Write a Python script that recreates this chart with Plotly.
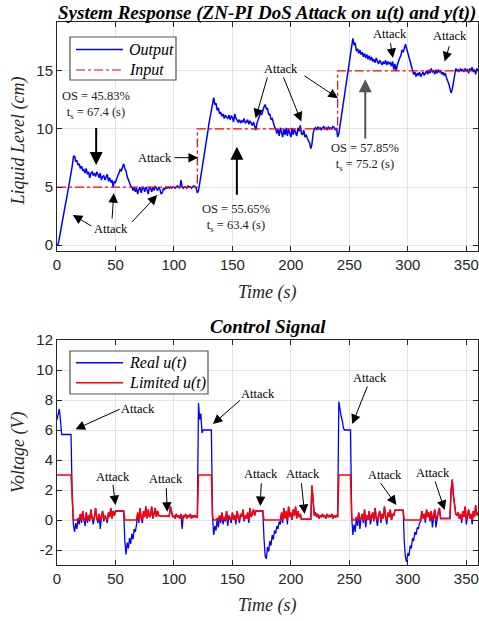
import plotly.graph_objects as go

# ---------------- data ----------------
TIME_S = list(range(0, 361))  # 1-s sampling grid

OUTPUT_CM = (
    [0.0, 0.1, 0.6, 1.2, 1.8, 2.5, 3.0, 3.4, 3.9, 4.4, 5.0, 5.6, 6.2, 6.8, 7.6]
    + [7.7, 7.2, 7.3, 6.9, 7.0, 6.6, 6.8, 6.4, 6.5, 6.2, 6.6, 6.1, 6.3, 5.8, 6.2, 6.3]
    + [6.0, 6.2, 5.9, 6.3, 6.1, 5.8, 6.2, 5.6, 5.9, 6.0, 5.6, 5.8, 6.1, 5.5, 5.8, 5.4, 5.6, 5.0, 5.5, 5.4]
    + [5.8, 6.0, 6.2, 6.5, 6.4, 6.7, 7.0, 6.6, 6.4, 5.9, 5.6, 5.3, 5.1, 5.0]
    + [4.7, 5.0, 4.6, 4.9, 4.4, 4.8, 5.0, 4.5, 4.9, 5.0, 4.6, 5.0, 4.8, 4.4, 5.0, 4.9]
    + [4.6, 5.0, 4.7, 5.1, 4.9, 4.7, 5.0, 4.8, 4.4, 4.5, 4.9, 4.8, 5.0, 4.9, 5.0, 4.9, 5.0, 4.9, 5.0, 5.0]
    + [4.9, 5.0, 5.1, 5.0, 4.9, 5.6, 5.0, 4.9, 5.0, 5.0, 4.9, 5.1, 5.0, 5.0, 4.9, 5.0, 5.1, 5.0, 4.9, 4.5]
    + [4.7, 5.3, 5.9, 6.6, 7.2, 7.9, 8.5, 9.2, 9.8, 10.5, 11.1, 11.8, 12.4, 12.7]
    + [12.1, 12.2, 11.6, 11.8, 11.3, 11.4, 11.1, 11.3, 10.9, 11.2, 11.0, 10.9, 11.2, 10.8, 11.1, 11.0,
       10.6, 11.3, 10.9, 10.7, 10.6, 10.8, 10.5, 10.7, 10.6, 10.9, 10.5, 10.6, 10.8, 10.4, 10.7]
    + [10.5, 10.3, 10.6, 10.2, 9.9, 10.5, 10.8, 11.0, 11.4, 11.2, 11.7, 11.9, 12.1, 11.7, 11.8, 11.2,
       11.3, 10.8, 10.9, 10.5, 10.2, 10.0]
    + [9.6, 10.0, 9.4, 10.1, 9.6, 9.3, 10.0, 9.5, 10.1, 9.4, 10.0, 9.7, 9.3, 10.1, 9.5, 10.0, 9.6, 9.4,
       10.1, 9.8, 10.3, 9.6, 9.5, 9.9, 9.3, 9.5, 9.2, 9.0, 8.8, 8.3, 8.7]
    + [9.6, 10.0, 10.1, 9.9, 10.2, 10.0, 10.1, 9.9, 10.1, 10.2, 10.0, 10.1, 9.9, 10.2, 10.0, 10.1, 10.0,
       10.2, 10.1, 9.9, 10.1, 9.3]
    + [9.6, 10.3, 11.0, 11.7, 12.4, 13.1, 13.8, 14.5, 15.2, 15.9, 16.6, 17.2, 17.8]
    + [17.2, 17.4, 16.7, 16.9, 16.5, 16.8, 16.4, 16.6, 16.2, 16.5, 16.1, 16.4, 16.0, 16.3, 15.9, 16.2,
       15.8, 16.0, 15.7, 16.1, 15.8, 15.6, 15.9, 15.7, 15.5, 15.8, 15.6, 15.9, 15.5, 15.8, 15.6, 15.7,
       15.4, 15.8, 15.1, 15.6, 15.0]
    + [15.5, 15.9, 16.1, 16.3, 16.8, 16.6, 17.1, 17.3, 16.9, 16.5, 16.2, 15.8, 15.4, 15.0, 14.7, 14.9,
       14.5, 14.8, 14.6, 14.9, 14.5, 14.7, 14.9, 14.6, 14.8, 15.0, 14.7, 15.1, 14.8, 15.2, 14.9, 15.0,
       14.7, 15.1]
    + [14.8, 15.1, 14.9, 15.0, 14.7, 14.9, 14.6, 14.8, 14.4, 14.2, 13.9, 13.5, 13.1, 13.4, 14.0, 14.9,
       15.2, 15.0, 15.1, 14.9, 15.2, 15.0, 15.1, 14.9, 15.2, 15.0, 15.1, 14.8, 15.2, 15.0, 15.3, 14.9,
       15.1, 14.7, 15.2, 15.0]
)

INPUT_T = [0, 120, 120, 240, 240, 360]
INPUT_CM = [5, 5, 10, 10, 15, 15]

REAL_U = (
    [6.7, 7.1, 7.4, 6.6, 5.7, 5.7, 5.7, 5.7, 5.7, 5.7, 5.7, 5.7, 5.7]
    + [1.6, -0.3, -0.8, -0.2, -0.6, 0.1, -0.3, 0.4]
    + [-0.2, 0.6, 0.0, -0.4, 0.5, -0.2, 0.3, -0.1, 0.7, 0.1]
    + [-0.3, 0.2, 0.8, 0.1, -0.2, 0.4, -0.6, 0.2, 0.6, -0.1]
    + [0.3, 0.1, -0.2, 0.5, 0.2, 0.8, 0.1, 0.6, 0.3, 0.6]
    + [0.6, 0.6, 0.6, 0.6, 0.6, 0.6, 0.6]
    + [-1.4, -2.3, -1.5, -1.9, -1.2, -1.6, -0.9, -1.3, -0.6, -0.8, -0.3]
    + [0.5, -0.2, 0.8, 0.1, -0.2, 0.6, 0.2, 0.9, 0.1, 0.7, 0.2, 0.3]
    + [0.9, 0.1, 0.4, 0.8, 0.2, 0.6, 0.3, 0.25]
    + [0.25, 0.25, 0.25, 0.25, 0.25, 0.25, 0.25, 0.25]
    + [0.9, 0.4, 0.2, 0.3, 0.1, 0.4, 0.2, 0.3, 0.1, 0.4, -0.6, 0.3, 0.2, 0.4]
    + [0.1, 0.3, 0.2, 0.4, 0.1, 0.3, 0.2, 0.3, 0.2, 0.2]
    + [7.8, 6.7, 7.1, 5.8, 6.0, 6.0, 6.0, 6.0, 6.0, 6.0, 6.0, 6.0]
    + [0.2, -1.0, -0.4, -0.7, 0.1, -0.5, 0.3, -0.2, 0.5, -0.3, 0.2, -0.1, 0.6, -0.4, 0.3, 0.1, -0.2, 0.5]
    + [0.0, 0.3, -0.3, 0.6, 0.1, -0.2, 0.4, 0.2, 0.7, -0.1, 0.3, 0.1, 0.5, -0.2, 0.8, 0.2, 0.4, 0.7, 0.3]
    + [0.6, 0.6, 0.6, 0.6, 0.6, 0.6, 0.6]
    + [-1.2, -2.4, -2.6, -1.8, -2.1, -1.4, -1.7, -1.0, -1.3, -0.7, -0.9, -0.4, -0.6, -0.1, -0.3]
    + [0.5, -0.2, 0.8, 0.1, 0.6, -0.3, 0.9, 0.2, 0.5, 0.0, 0.7, 0.3, 0.9, 0.1, 0.6, 0.2, 0.4]
    + [0.05, 0.05, 0.05, 0.05, 0.05, 0.05, 0.05, 0.05, 0.05]
    + [2.3, 1.2, 0.3, 0.5, 0.2, 0.4, 0.1, 0.3, 0.2, 0.4, 0.2, 0.3, 0.1, 0.4, 0.2, 0.3, 0.2, 0.4, 0.1, 0.3,
       0.2, 0.3, 0.2]
    + [7.9, 7.3, 6.9, 6.6, 6.1, 6.0, 6.0, 6.0, 6.0, 6.0, 6.0]
    + [0.2, -1.0, -0.3, -0.8, 0.2, -0.4, 0.5, -0.6, 0.1, 0.4, -0.2, 0.7, -0.5, 0.3, 0.0, 0.6, -0.3, 0.2, 0.5]
    + [-0.1, 0.8, 0.1, -0.4, 0.3, 0.6, -0.2, 0.4, 0.1, 0.9, 0.2, -0.3, 0.5, 0.2, 0.7, 0.0, 0.4, 0.3, 0.65]
    + [0.65, 0.65, 0.65, 0.65, 0.65, 0.65, 0.65]
    + [-1.5, -2.5, -2.8, -2.2, -2.4, -1.7, -1.9, -1.2, -1.4, -0.8, -1.0, -0.5, -0.6, -0.2, -0.1]
    + [0.6, 0.1, 0.4, -0.2, 0.7, 0.2, 0.5, -0.1, 0.6, -0.5, 0.3, 0.7, -0.5, 0.2, 0.5, 0.8, 0.1]
    + [0.1, 0.1, 0.1, 0.1, 0.1, 0.1, 0.1, 0.1]
    + [2.0, 2.7, 1.6, 0.9, 0.4, 0.3, 0.5, 0.1, 0.4, -0.2, 0.6, 0.2, 0.9, -0.3, 0.3, 0.7, 0.1, 0.4, -0.3,
       0.6, 0.2, 1.0, 0.3, 0.5]
)

LIMITED_U = (
    [3.0, 3.0, 3.0, 3.0, 3.0, 3.0, 3.0, 3.0, 3.0, 3.0, 3.0, 3.0, 3.0]
    + [1.6, 0.0, 0.0, 0.0, 0.0, 0.1, 0.0, 0.4]
    + [0.0, 0.6, 0.0, 0.0, 0.5, 0.0, 0.3, 0.0, 0.7, 0.1]
    + [0.0, 0.2, 0.8, 0.1, 0.0, 0.4, 0.0, 0.2, 0.6, 0.0]
    + [0.3, 0.1, 0.0, 0.5, 0.2, 0.8, 0.1, 0.6, 0.3, 0.6]
    + [0.6, 0.6, 0.6, 0.6, 0.6, 0.6, 0.6]
    + [0.0, 0.0, 0.0, 0.0, 0.0, 0.0, 0.0, 0.0, 0.0, 0.0, 0.0]
    + [0.5, 0.0, 0.8, 0.1, 0.0, 0.6, 0.2, 0.9, 0.1, 0.7, 0.2, 0.3]
    + [0.9, 0.1, 0.4, 0.8, 0.2, 0.6, 0.3, 0.25]
    + [0.25, 0.25, 0.25, 0.25, 0.25, 0.25, 0.25, 0.25]
    + [0.9, 0.4, 0.2, 0.3, 0.1, 0.4, 0.2, 0.3, 0.1, 0.4, 0.0, 0.3, 0.2, 0.4]
    + [0.1, 0.3, 0.2, 0.4, 0.1, 0.3, 0.2, 0.3, 0.2, 0.2]
    + [3.0, 3.0, 3.0, 3.0, 3.0, 3.0, 3.0, 3.0, 3.0, 3.0, 3.0, 3.0]
    + [0.2, 0.0, 0.0, 0.0, 0.1, 0.0, 0.3, 0.0, 0.5, 0.0, 0.2, 0.0, 0.6, 0.0, 0.3, 0.1, 0.0, 0.5]
    + [0.0, 0.3, 0.0, 0.6, 0.1, 0.0, 0.4, 0.2, 0.7, 0.0, 0.3, 0.1, 0.5, 0.0, 0.8, 0.2, 0.4, 0.7, 0.3]
    + [0.6, 0.6, 0.6, 0.6, 0.6, 0.6, 0.6]
    + [0.0, 0.0, 0.0, 0.0, 0.0, 0.0, 0.0, 0.0, 0.0, 0.0, 0.0, 0.0, 0.0, 0.0, 0.0]
    + [0.5, 0.0, 0.8, 0.1, 0.6, 0.0, 0.9, 0.2, 0.5, 0.0, 0.7, 0.3, 0.9, 0.1, 0.6, 0.2, 0.4]
    + [0.05, 0.05, 0.05, 0.05, 0.05, 0.05, 0.05, 0.05, 0.05]
    + [2.3, 1.2, 0.3, 0.5, 0.2, 0.4, 0.1, 0.3, 0.2, 0.4, 0.2, 0.3, 0.1, 0.4, 0.2, 0.3, 0.2, 0.4, 0.1, 0.3,
       0.2, 0.3, 0.2]
    + [3.0, 3.0, 3.0, 3.0, 3.0, 3.0, 3.0, 3.0, 3.0, 3.0, 3.0]
    + [0.2, 0.0, 0.0, 0.0, 0.2, 0.0, 0.5, 0.0, 0.1, 0.4, 0.0, 0.7, 0.0, 0.3, 0.0, 0.6, 0.0, 0.2, 0.5]
    + [0.0, 0.8, 0.1, 0.0, 0.3, 0.6, 0.0, 0.4, 0.1, 0.9, 0.2, 0.0, 0.5, 0.2, 0.7, 0.0, 0.4, 0.3, 0.65]
    + [0.65, 0.65, 0.65, 0.65, 0.65, 0.65, 0.65]
    + [0.0, 0.0, 0.0, 0.0, 0.0, 0.0, 0.0, 0.0, 0.0, 0.0, 0.0, 0.0, 0.0, 0.0, 0.0]
    + [0.6, 0.1, 0.4, 0.0, 0.7, 0.2, 0.5, 0.0, 0.6, 0.0, 0.3, 0.7, 0.0, 0.2, 0.5, 0.8, 0.1]
    + [0.1, 0.1, 0.1, 0.1, 0.1, 0.1, 0.1, 0.1]
    + [2.0, 2.7, 1.6, 0.9, 0.4, 0.3, 0.5, 0.1, 0.4, 0.0, 0.6, 0.2, 0.9, 0.0, 0.3, 0.7, 0.1, 0.4, 0.0,
       0.6, 0.2, 1.0, 0.3, 0.5]
)

assert len(OUTPUT_CM) == len(TIME_S), len(OUTPUT_CM)
assert len(REAL_U) == len(TIME_S), len(REAL_U)
assert len(LIMITED_U) == len(TIME_S), len(LIMITED_U)

X_TICKS = [0, 50, 100, 150, 200, 250, 300, 350]
Y1_TICKS = [0, 5, 10, 15]
Y2_TICKS = [-2, 0, 2, 4, 6, 8, 10, 12]
Y2_TICK_LABELS = ["-2", "0", "2", "4", "6", "8", "10", "12"]

SERIES_NAMES_TOP = ["Output", "Input"]
SERIES_NAMES_BOT = ["Real u(t)", "Limited u(t)"]

# annotation texts / anchor points (data coordinates)
TOP_ATTACK_LABELS = [(46.4, 1.35), (83.8, 7.53), (191.8, 15.15), (284.4, 18.16), (335.8, 17.96)]
TOP_ATTACK_ARROWS = [
    (30.6, 1.58, 13.5, 2.59), (47.0, 2.16, 48.6, 4.48), (62.9, 1.87, 85.7, 4.31),
    (99.1, 7.53, 120.5, 7.53), (180.3, 14.57, 169.8, 10.92), (193.2, 14.57, 208.9, 10.63),
    (210.3, 14.66, 240.2, 12.65), (284.9, 17.5, 287.3, 16.1), (335.8, 17.24, 331.5, 15.8),
]
OS_LABELS = [
    ("OS = 45.83%<br>t<sub>s</sub> = 67.4 (s)", 33.5, 12.05),
    ("OS = 55.65%<br>t<sub>s</sub> = 63.4 (s)", 153.3, 2.30),
    ("OS = 57.85%<br>t<sub>s</sub> = 75.2 (s)", 263.0, 7.61),
]
OS_ARROWS = [
    (33.5, 10.2, 33.5, 6.9, "black"),
    (153.8, 4.22, 153.8, 8.47, "black"),
    (263.6, 9.05, 263.6, 14.28, "#555555"),
]
BOT_ATTACK_LABELS = [(69.1, 7.38), (171.8, 8.4), (267.3, 9.49), (47.7, 2.89), (93.4, 2.71),
                     (174.7, 3.05), (210.3, 3.05), (280.2, 3.0), (321.5, 3.15)]
BOT_ATTACK_ARROWS = [
    (54.9, 7.43, 15.8, 6.05), (157.6, 8.05, 133.3, 6.4), (265.9, 9.0, 252.5, 6.4),
    (47.7, 2.45, 50.0, 1.0), (93.4, 2.22, 94.3, 0.55), (174.7, 2.55, 173.8, 0.93),
    (208.9, 2.55, 211.7, 0.4), (275.9, 2.55, 290.2, 1.0), (322.9, 2.67, 331.5, 0.67),
]

# ---------------- figure ----------------
SERIF = "Liberation Serif"
SANS = "Liberation Sans"
AX_COL = "#262626"
GRID = "#e3e3e3"
BLUE = "#0000ff"
RED = "#ff0000"

fig = go.Figure()
fig.add_trace(go.Scatter(x=TIME_S, y=OUTPUT_CM, mode="lines", name=SERIES_NAMES_TOP[0],
                         line=dict(color=BLUE, width=1.5), xaxis="x", yaxis="y"))
fig.add_trace(go.Scatter(x=INPUT_T, y=INPUT_CM, mode="lines", name=SERIES_NAMES_TOP[1],
                         line=dict(color=RED, width=1.2, dash="dashdot"), xaxis="x", yaxis="y"))
fig.add_trace(go.Scatter(x=TIME_S, y=REAL_U, mode="lines", name=SERIES_NAMES_BOT[0],
                         line=dict(color=BLUE, width=1.3), xaxis="x2", yaxis="y2"))
fig.add_trace(go.Scatter(x=TIME_S, y=LIMITED_U, mode="lines", name=SERIES_NAMES_BOT[1],
                         line=dict(color=RED, width=1.5), xaxis="x2", yaxis="y2"))

PLOT_T, PLOT_B, H = 22, 565, 621
def py(p):  # pixel row -> paper y
    return (PLOT_B - p) / (PLOT_B - PLOT_T)
def px(p):  # pixel col -> paper x
    return (p - 57) / 421

axis_common = dict(showline=True, linecolor=AX_COL, linewidth=1, mirror="ticks", ticks="inside",
                   ticklen=5, tickcolor=AX_COL, showgrid=True, gridcolor=GRID, gridwidth=1,
                   zeroline=False, tickfont=dict(family=SANS, size=15, color=AX_COL))

fig.update_layout(
    width=479, height=621,
    margin=dict(l=57, r=1, t=PLOT_T, b=H - PLOT_B),
    paper_bgcolor="white", plot_bgcolor="white",
    showlegend=False,
    xaxis=dict(domain=[0, 1], range=[0, 360], tickvals=X_TICKS, anchor="y", **axis_common),
    yaxis=dict(domain=[py(251), 1.0], range=[-0.5, 19.2], tickvals=Y1_TICKS, anchor="x", **axis_common),
    xaxis2=dict(domain=[0, 1], range=[0, 360], tickvals=X_TICKS, anchor="y2", **axis_common),
    yaxis2=dict(domain=[0, py(340)], range=[-3, 12], tickvals=Y2_TICKS, ticktext=Y2_TICK_LABELS,
                anchor="x2", **axis_common),
)

# legend boxes (drawn as in the MATLAB figure)
shapes = []
ann = []
leg_font = dict(family=SERIF, size=16, style="italic", color="black")

def legend_box(x0, x1, y0, y1, rows):
    shapes.append(dict(type="rect", xref="paper", yref="paper", x0=px(x0), x1=px(x1),
                       y0=py(y1), y1=py(y0), fillcolor="white",
                       line=dict(color="#505050", width=1.2), layer="above"))
    for (name, yy, color, dash, w) in rows:
        shapes.append(dict(type="line", xref="paper", yref="paper", x0=px(76), x1=px(123),
                           y0=py(yy), y1=py(yy), line=dict(color=color, width=w, dash=dash),
                           layer="above"))
        ann.append(dict(text=name, x=px(127), y=py(yy), xref="paper", yref="paper",
                        showarrow=False, xanchor="left", yanchor="middle", font=leg_font))

legend_box(70, 176, 37, 80, [(SERIES_NAMES_TOP[0], 49.5, BLUE, "solid", 1.5),
                             (SERIES_NAMES_TOP[1], 70, RED, "dashdot", 1.2)])
legend_box(70, 208, 351, 394, [(SERIES_NAMES_BOT[0], 362.7, BLUE, "solid", 1.5),
                               (SERIES_NAMES_BOT[1], 382.7, RED, "solid", 1.5)])

title_font = dict(family=SERIF, size=19, color="black", weight="bold", style="italic")
label_font = dict(family=SERIF, size=18, color=AX_COL, style="italic")
ann.append(dict(text="System Response (ZN-PI DoS Attack on u(t) and y(t))", x=px(266.5), y=py(13),
                xref="paper", yref="paper", showarrow=False, xanchor="center", yanchor="middle",
                font=title_font))
ann.append(dict(text="Control Signal", x=px(268), y=py(326), xref="paper", yref="paper",
                showarrow=False, xanchor="center", yanchor="middle", font=title_font))
ann.append(dict(text="Time (s)", x=px(267.5), y=py(292), xref="paper", yref="paper",
                showarrow=False, xanchor="center", yanchor="middle", font=label_font))
ann.append(dict(text="Time (s)", x=px(267.5), y=py(605), xref="paper", yref="paper",
                showarrow=False, xanchor="center", yanchor="middle", font=label_font))
ann.append(dict(text="Liquid Level (cm)", x=px(18), y=py(141.5), xref="paper", yref="paper",
                showarrow=False, xanchor="center", yanchor="middle", textangle=-90, font=label_font))
ann.append(dict(text="Voltage (V)", x=px(18), y=py(453), xref="paper", yref="paper",
                showarrow=False, xanchor="center", yanchor="middle", textangle=-90, font=label_font))

small = dict(family=SERIF, size=12.5, color="black")
for (t, v) in TOP_ATTACK_LABELS:
    ann.append(dict(text="Attack", x=t, y=v, xref="x", yref="y", showarrow=False, font=small))
for (t, v) in BOT_ATTACK_LABELS:
    ann.append(dict(text="Attack", x=t, y=v, xref="x2", yref="y2", showarrow=False, font=small))
for (txt, t, v) in OS_LABELS:
    ann.append(dict(text=txt, x=t, y=v, xref="x", yref="y", showarrow=False,
                    font=dict(family=SERIF, size=12.5, color="#222222")))

def arrow(t0, v0, t1, v1, xr, yr, color="black", size=1.9, width=1.0):
    return dict(text="", x=t1, y=v1, ax=t0, ay=v0, xref=xr, yref=yr, axref=xr, ayref=yr,
                showarrow=True, arrowhead=2, arrowsize=size, arrowwidth=width, arrowcolor=color,
                standoff=0, startstandoff=0)

for (t0, v0, t1, v1) in TOP_ATTACK_ARROWS:
    ann.append(arrow(t0, v0, t1, v1, "x", "y"))
for (t0, v0, t1, v1) in BOT_ATTACK_ARROWS:
    ann.append(arrow(t0, v0, t1, v1, "x2", "y2"))
for (t0, v0, t1, v1, c) in OS_ARROWS:
    ann.append(arrow(t0, v0, t1, v1, "x", "y", color=c, size=1.3, width=2.0))

fig.update_layout(annotations=ann, shapes=shapes)
fig.write_html("out.html", config={"displayModeBar": False},
               post_script="document.body.style.margin='0px';document.body.style.overflow='hidden';")
